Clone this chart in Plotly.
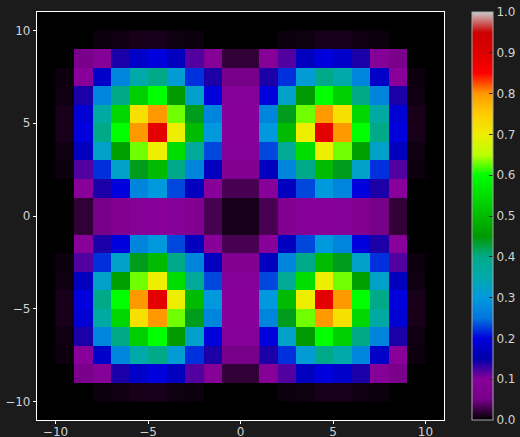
import plotly.graph_objects as go

# cell edges (20 x 20 grid from -10 to 10)
x_edges = list(range(-10, 11))
y_edges = list(range(-10, 11))

# values, one list per row, bottom (y=-10..-9) to top (y=9..10)
z_values = [
    [0, 0, 0.005, 0.006, 0.01, 0.01, 0.006, 0.005, 0, 0, 0, 0, 0.005, 0.006, 0.01, 0.01, 0.006, 0.005, 0, 0],
    [0, 0.06, 0.09, 0.14, 0.18, 0.2, 0.17, 0.12, 0.09, 0.02, 0.02, 0.09, 0.12, 0.17, 0.2, 0.18, 0.14, 0.09, 0.06, 0],
    [0.005, 0.1, 0.18, 0.27, 0.35, 0.4, 0.31, 0.22, 0.14, 0.05, 0.05, 0.14, 0.22, 0.31, 0.4, 0.35, 0.27, 0.18, 0.1, 0.005],
    [0.006, 0.14, 0.27, 0.4, 0.53, 0.6, 0.45, 0.32, 0.2, 0.09, 0.09, 0.2, 0.32, 0.45, 0.6, 0.53, 0.4, 0.27, 0.14, 0.006],
    [0.01, 0.19, 0.36, 0.54, 0.72, 0.8, 0.63, 0.44, 0.27, 0.1, 0.1, 0.27, 0.44, 0.63, 0.8, 0.72, 0.54, 0.36, 0.19, 0.01],
    [0.01, 0.2, 0.4, 0.6, 0.8, 0.89, 0.7, 0.5, 0.3, 0.1, 0.1, 0.3, 0.5, 0.7, 0.89, 0.8, 0.6, 0.4, 0.2, 0.01],
    [0.006, 0.17, 0.32, 0.46, 0.63, 0.7, 0.55, 0.38, 0.23, 0.09, 0.09, 0.23, 0.38, 0.55, 0.7, 0.63, 0.46, 0.32, 0.17, 0.006],
    [0.005, 0.12, 0.22, 0.32, 0.44, 0.5, 0.4, 0.27, 0.17, 0.08, 0.08, 0.17, 0.27, 0.4, 0.5, 0.44, 0.32, 0.22, 0.12, 0.005],
    [0, 0.1, 0.14, 0.2, 0.27, 0.3, 0.23, 0.17, 0.1, 0.03, 0.03, 0.1, 0.17, 0.23, 0.3, 0.27, 0.2, 0.14, 0.1, 0],
    [0, 0.02, 0.05, 0.08, 0.09, 0.1, 0.09, 0.08, 0.03, 0.01, 0.01, 0.03, 0.08, 0.09, 0.1, 0.09, 0.08, 0.05, 0.02, 0],
    [0, 0.02, 0.05, 0.08, 0.09, 0.1, 0.09, 0.08, 0.03, 0.01, 0.01, 0.03, 0.08, 0.09, 0.1, 0.09, 0.08, 0.05, 0.02, 0],
    [0, 0.1, 0.14, 0.2, 0.27, 0.3, 0.23, 0.17, 0.1, 0.03, 0.03, 0.1, 0.17, 0.23, 0.3, 0.27, 0.2, 0.14, 0.1, 0],
    [0.005, 0.12, 0.22, 0.32, 0.44, 0.5, 0.4, 0.27, 0.17, 0.08, 0.08, 0.17, 0.27, 0.4, 0.5, 0.44, 0.32, 0.22, 0.12, 0.005],
    [0.006, 0.17, 0.32, 0.46, 0.63, 0.7, 0.55, 0.38, 0.23, 0.09, 0.09, 0.23, 0.38, 0.55, 0.7, 0.63, 0.46, 0.32, 0.17, 0.006],
    [0.01, 0.2, 0.4, 0.6, 0.8, 0.89, 0.7, 0.5, 0.3, 0.1, 0.1, 0.3, 0.5, 0.7, 0.89, 0.8, 0.6, 0.4, 0.2, 0.01],
    [0.01, 0.19, 0.36, 0.54, 0.72, 0.8, 0.63, 0.44, 0.27, 0.1, 0.1, 0.27, 0.44, 0.63, 0.8, 0.72, 0.54, 0.36, 0.19, 0.01],
    [0.006, 0.14, 0.27, 0.4, 0.53, 0.6, 0.45, 0.32, 0.2, 0.09, 0.09, 0.2, 0.32, 0.45, 0.6, 0.53, 0.4, 0.27, 0.14, 0.006],
    [0.005, 0.1, 0.18, 0.27, 0.35, 0.4, 0.31, 0.22, 0.14, 0.05, 0.05, 0.14, 0.22, 0.31, 0.4, 0.35, 0.27, 0.18, 0.1, 0.005],
    [0, 0.06, 0.09, 0.14, 0.18, 0.2, 0.17, 0.12, 0.09, 0.02, 0.02, 0.09, 0.12, 0.17, 0.2, 0.18, 0.14, 0.09, 0.06, 0],
    [0, 0, 0.005, 0.006, 0.01, 0.01, 0.006, 0.005, 0, 0, 0, 0, 0.005, 0.006, 0.01, 0.01, 0.006, 0.005, 0, 0],
]

axis_ticks = [-10, -5, 0, 5, 10]
axis_ticktext = ["\u221210", "\u22125", "0", "5", "10"]
cbar_ticks = [0.0, 0.1, 0.2, 0.3, 0.4, 0.5, 0.6, 0.7, 0.8, 0.9, 1.0]
cbar_ticktext = ["0.0", "0.1", "0.2", "0.3", "0.4", "0.5", "0.6", "0.7", "0.8", "0.9", "1.0"]

# nipy_spectral colormap
cmap_stops = [0.0, 0.05, 0.10, 0.15, 0.20, 0.25, 0.30, 0.35, 0.40, 0.45, 0.50,
              0.55, 0.60, 0.65, 0.70, 0.75, 0.80, 0.85, 0.90, 0.95, 1.0]
cmap_colors = ["#000000", "#770088", "#880099", "#0000aa", "#0000dd", "#0077dd",
               "#0099dd", "#00aaaa", "#00aa88", "#009900", "#00bb00", "#00dd00",
               "#00ff00", "#bbff00", "#eeee00", "#ffcc00", "#ff9900", "#ff0000",
               "#dd0000", "#cc0000", "#cccccc"]
colorscale = [[s, c] for s, c in zip(cmap_stops, cmap_colors)]

FONT = "DejaVu Sans"
TXT = "#d2d2d2"
BG = "#1b1b1b"

fig = go.Figure(go.Heatmap(
    z=z_values, x=x_edges, y=y_edges,
    colorscale=colorscale, zmin=0, zmax=1,
    hoverinfo="skip",
    colorbar=dict(
        x=1.069, xanchor="left", xref="paper",
        y=0.5, yanchor="middle", len=1.0, lenmode="fraction",
        thickness=21, thicknessmode="pixels",
        outlinecolor="#a8a8a8", outlinewidth=1,
        tickvals=cbar_ticks, ticktext=cbar_ticktext,
        ticks="inside", ticklen=4, tickcolor="#222222", tickwidth=1,
        tickfont=dict(family=FONT, size=12, color=TXT),
        xpad=0, ypad=0,
    ),
))

axis_common = dict(
    range=[-11, 11], tickvals=axis_ticks, ticktext=axis_ticktext,
    showgrid=False, zeroline=False, showline=True, linecolor="#ffffff",
    linewidth=1.2, mirror=True, ticks="outside", ticklen=3, tickcolor="#ffffff",
    tickfont=dict(family=FONT, size=12, color=TXT),
    automargin=False,
)

fig.update_layout(
    width=520, height=437,
    margin=dict(l=37, r=76, t=12, b=17, autoexpand=False),
    paper_bgcolor=BG, plot_bgcolor="#000000",
    xaxis=dict(**axis_common, ticklabelstandoff=-3),
    yaxis=dict(**axis_common),
    showlegend=False,
)

fig.write_html(
    "out.html",
    config={"displayModeBar": False},
    post_script="document.body.style.margin='0';document.body.style.overflow='hidden';"
                "document.body.style.background='" + BG + "';",
)
